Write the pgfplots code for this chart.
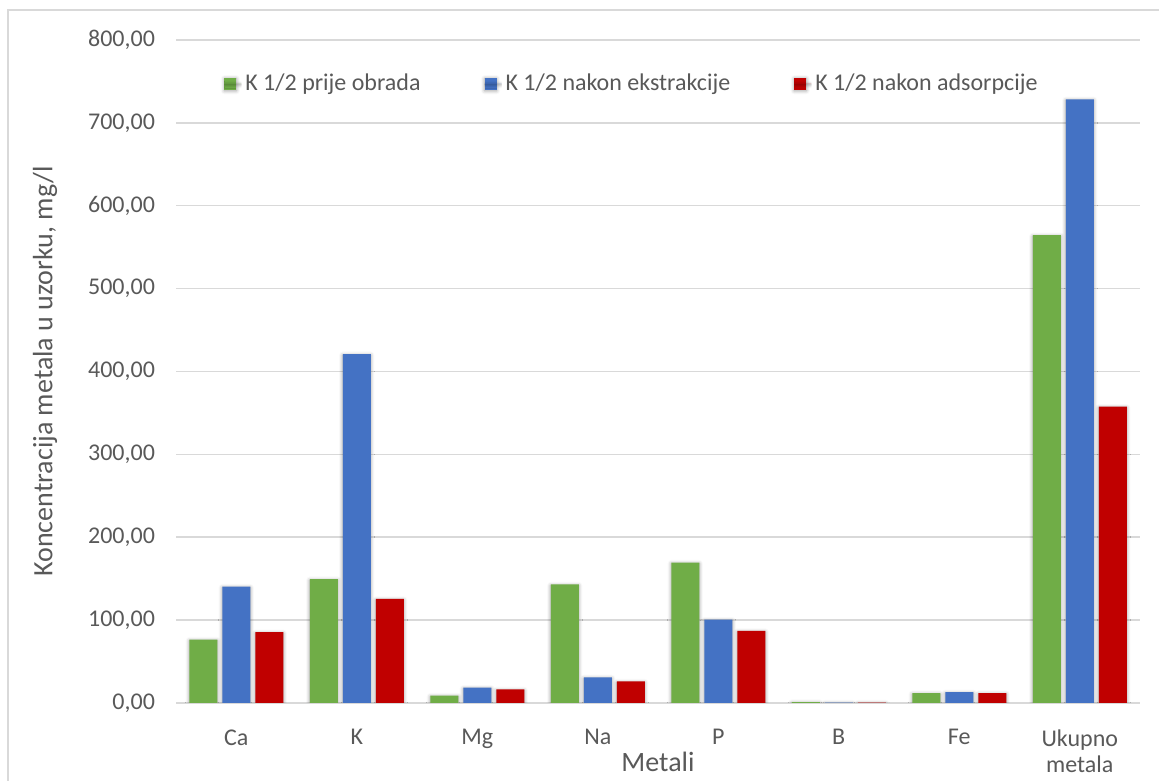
\documentclass[border=0pt]{standalone}
\usepackage{fontspec}
\setmainfont{Carlito}
\usepackage{pgfplots}
\usepackage{pgfplotstable}
\pgfplotsset{compat=1.18}
\usetikzlibrary{shadows.blur}
\definecolor{grn}{HTML}{70AD47}
\definecolor{blu}{HTML}{4472C4}
\definecolor{rd}{HTML}{C00000}
\definecolor{txt}{HTML}{595959}
\definecolor{gridc}{HTML}{D9D9D9}

\pgfplotstableread{
x g b r
0 76.5 140.5 85.5
1 149.5 421 125.5
2 9 18.5 16.5
3 143 31 26
4 169.5 100.5 87
5 1.2 0.6 0.6
6 12 13 12
7 564.5 728.5 357.5
}\data

\begin{document}
\begin{tikzpicture}
\useasboundingbox (0,0) rectangle (579.5pt,390pt);
\draw[gridc, line width=0.75pt] (4pt,-1pt) -- (4pt,385pt) -- (581pt,385pt);
\begin{axis}[
  at={(88pt,38.5pt)}, anchor=south west,
  width=482pt, height=331.5pt, scale only axis,
  xmin=-0.5, xmax=7.5, ymin=0, ymax=800,
  ytick={0,100,...,800},
  xtick={0,...,7},
  xticklabels={Ca,K,Mg,Na,P,B,Fe,{Ukupno\\metala}},
  ymajorgrids, grid style={gridc, line width=0.75pt},
  axis line style={draw=none},
  tick style={draw=none},
  /pgf/number format/assume math mode=true,
  yticklabel={\pgfmathprintnumber[fixed,fixed zerofill,precision=2,use comma,1000 sep={}]{\tick}},
  ticklabel style={font=\fontsize{12}{12.5}\selectfont, text=txt},
  xticklabel style={align=center, anchor=north, yshift=-5.5pt, font=\fontsize{12}{13}\selectfont},
  yticklabel style={anchor=east, xshift=-7pt},
  every axis y label/.style={at={(rel axis cs:0,0.5)}, xshift=-65.5pt, rotate=90, anchor=center, font=\fontsize{14}{16}\selectfont, text=txt},
  every axis x label/.style={at={(rel axis cs:0.5,0)}, yshift=-29.5pt, anchor=center, font=\fontsize{14}{16}\selectfont, text=txt},
  ylabel={Koncentracija metala u uzorku, mg/l},
  xlabel={Metali},
  ybar=2.5pt, bar width=14pt,
  legend style={at={(rel axis cs:0.474,0.934)}, anchor=center, draw=none, fill=none,
    font=\fontsize{12}{14}\selectfont, text=txt,
    /tikz/every even column/.append style={column sep=30pt}},
  legend columns=3,
]
\addplot[fill=grn, draw=none, blur shadow={shadow xshift=0pt, shadow yshift=-0.5pt, shadow blur radius=1.8pt, shadow opacity=40},
  legend image code/.code={\fill[grn] (0pt,-3pt) rectangle (6pt,3pt); \path (0pt,0pt) -- (8.5pt,0pt);}] table[x=x,y=g]{\data};
\addplot[fill=blu, draw=none, blur shadow={shadow xshift=0pt, shadow yshift=-0.5pt, shadow blur radius=1.8pt, shadow opacity=40},
  legend image code/.code={\fill[blu] (0pt,-3pt) rectangle (6pt,3pt); \path (0pt,0pt) -- (8.5pt,0pt);}] table[x=x,y=b]{\data};
\addplot[fill=rd, draw=none, blur shadow={shadow xshift=0pt, shadow yshift=-0.5pt, shadow blur radius=1.8pt, shadow opacity=40},
  legend image code/.code={\fill[rd] (0pt,-3pt) rectangle (6pt,3pt); \path (0pt,0pt) -- (8.5pt,0pt);}] table[x=x,y=r]{\data};
\legend{K 1/2 prije obrada, K 1/2 nakon ekstrakcije, K 1/2 nakon adsorpcije}
\end{axis}
\end{tikzpicture}
\end{document}
